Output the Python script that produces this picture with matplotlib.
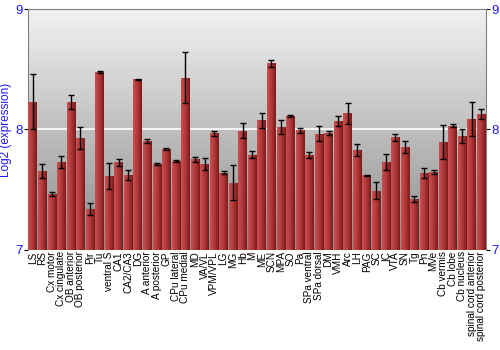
import numpy as np
import matplotlib
matplotlib.use('Agg')
import matplotlib.pyplot as plt
from matplotlib.colors import LinearSegmentedColormap

plt.rcParams['font.family'] = ['Liberation Sans', 'DejaVu Sans']

# regions and log2 expression values
regions = ['LS', 'RS', 'Cx motor', 'Cx cingulate', 'OB anterior', 'OB posterior', 'Pir', 'Tu',
           'ventral S', 'CA1', 'CA2/CA3', 'DG', 'A anterior', 'A posterior', 'GP', 'CPu lateral',
           'CPu medial', 'MD', 'VA/VL', 'VPM/VPL', 'LG', 'MG', 'Hb', 'M', 'ME', 'SCN', 'MPA', 'SO',
           'Pa', 'SPa ventral', 'SPa dorsal', 'DM', 'VMH', 'Arc', 'LH', 'PAG', 'SC', 'IC', 'VTA',
           'SN', 'Tg', 'Pn', 'MVe', 'Cb vermis', 'Cb lobe', 'Cb nucleus', 'spinal cord anterior',
           'spinal cord posterior']
values = [8.23, 7.656, 7.465, 7.733, 8.23, 7.927, 7.338, 8.477,
          7.614, 7.728, 7.62, 8.416, 7.902, 7.714, 7.836, 7.739,
          8.43, 7.753, 7.716, 7.968, 7.642, 7.556, 7.99, 7.79, 8.076, 8.549, 8.021, 8.112,
          7.993, 7.786, 7.965, 7.971, 8.068, 8.134, 7.83, 7.62, 7.49, 7.728, 7.935,
          7.852, 7.42, 7.639, 7.645, 7.896, 8.032, 7.944, 8.085,
          8.129]
errors = [0.23, 0.055, 0.015, 0.05, 0.06, 0.09, 0.05, 0.01,
          0.11, 0.03, 0.04, 0.005, 0.015, 0.01, 0.008, 0.005,
          0.21, 0.02, 0.05, 0.02, 0.01, 0.145, 0.06, 0.03, 0.06, 0.03, 0.06, 0.005,
          0.02, 0.025, 0.06, 0.015, 0.04, 0.09, 0.05, 0.005, 0.07, 0.065, 0.03,
          0.05, 0.025, 0.045, 0.015, 0.14, 0.015, 0.06, 0.14,
          0.045]

blue = '#1a1aff'
ymin, ymax = 7, 9

fig = plt.figure(figsize=(5, 3.5), dpi=100)
ax = fig.add_axes([0.056, 0.286, 0.916, 0.688])

n = len(regions)
x = np.arange(n)
ax.set_xlim(-0.5, n - 0.5)
ax.set_ylim(ymin, ymax)

# background gradient (light top, darker bottom)
bg = LinearSegmentedColormap.from_list('bg', ['#8c8c8c', '#f2f2f2'])
grad = np.linspace(0, 1, 256).reshape(-1, 1)
ax.imshow(grad, extent=[-0.5, n - 0.5, ymin, ymax], origin='lower', aspect='auto',
          cmap=bg, zorder=0)
ax.axhline(8, color='white', lw=1.2, zorder=1)

bars = ax.bar(x, np.array(values) - ymin, bottom=ymin, width=0.9, color='#a83232', zorder=2)
barmap = LinearSegmentedColormap.from_list('bar', ['#c85050', '#b03838', '#7a1a1a'])
hgrad = np.linspace(0, 1, 64).reshape(1, -1)
for b in bars:
    im = ax.imshow(hgrad, extent=[b.get_x(), b.get_x() + b.get_width(), ymin, b.get_y() + b.get_height()],
                   aspect='auto', cmap=barmap, zorder=3)
    im.set_clip_path(b)

ax.errorbar(x, values, yerr=errors, fmt='none', ecolor='black', elinewidth=1,
            capsize=2, capthick=1, zorder=4)

ax.set_xticks(x)
ax.set_xticklabels(regions, rotation=90, fontsize=7.2)
ax.tick_params(axis='x', length=0, pad=1)
ax.set_yticks([7, 8, 9])
ax.tick_params(axis='y', labelcolor=blue, labelsize=9.5, length=3, pad=1,
               right=True, labelright=True)
ax.set_ylabel('Log2 (expression)', color=blue, fontsize=8.5, labelpad=2)

for s in ax.spines.values():
    s.set_color('#808080')
ax.spines['bottom'].set_visible(False)

fig.savefig('out.png', dpi=100)
